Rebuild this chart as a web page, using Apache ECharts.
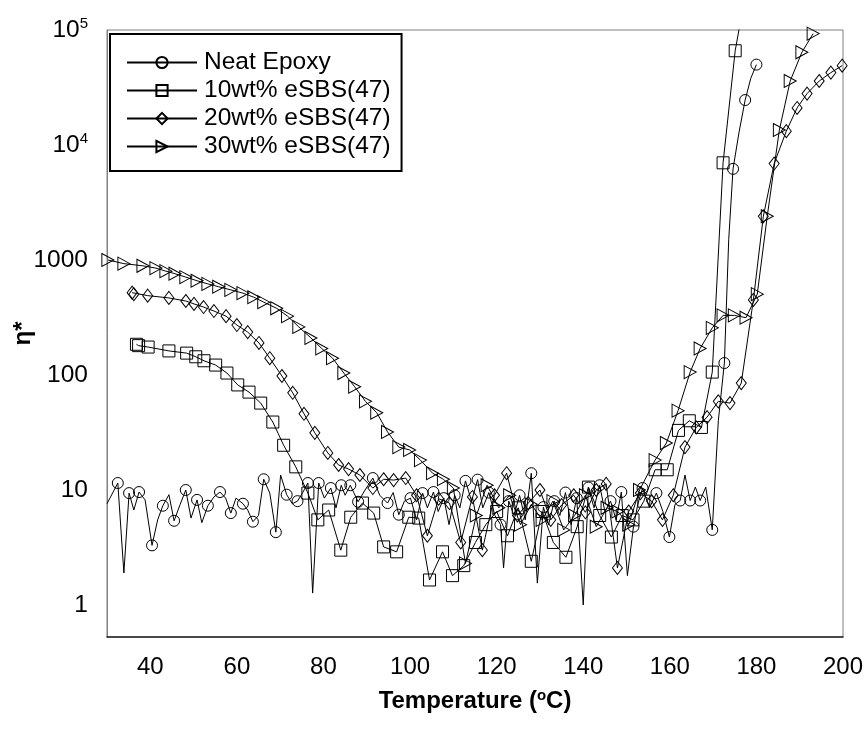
<!DOCTYPE html>
<html>
<head>
<meta charset="utf-8">
<script src="https://cdn.jsdelivr.net/npm/echarts@6/dist/echarts.min.js"></script>
<style>
html,body{margin:0;padding:0;background:#fff;}
#chart{width:866px;height:739px;}
</style>
</head>
<body>
<div id="chart"></div>
<script>
// ---- data (temperature in °C, viscosity η*) ----
const seriesNames = ['Neat Epoxy', '10wt% eSBS(47)', '20wt% eSBS(47)', '30wt% eSBS(47)'];

const neatX = [30,32.5,33.9,35.1,36.2,37.4,38.8,40.4,41.7,42.9,44.3,45.5,46.9,48.2,49.4,50.8,51.9,53.3,54.7,56.1,
  57.4,58.6,59.8,61.4,62.5,63.7,65.0,66.2,67.6,69.0,70.1,71.5,72.8,74.0,75.2,76.4,77.5,78.9,80.2,81.7,
  82.9,84.1,85.0,86.2,87.0,88.0,89.6,91.4,93.0,94.8,96.1,97.4,98.7,100.1,101.5,102.9,104.0,105.4,106.5,107.8,
  109.0,110.3,111.5,112.8,114.2,115.6,116.8,118.2,119.6,120.9,121.6,122.8,124.0,125.3,126.6,128.0,129.4,130.8,132.0,133.3,
  134.6,135.9,137.2,138.5,140.0,141.2,142.5,143.8,145.0,146.3,147.6,148.8,150.2,151.6,152.6,153.7,155.3,156.9,158.4,159.9,
  161.2,162.4,163.5,164.7,165.9,167.0,168.3,169.8,171.2,172.6,173.6,174.6,176.0,177.4,178.7,180.0];
const neatY = [7.6,11.5,1.9,9.4,6.7,9.6,8.2,3.3,5.5,7.3,9.1,5.4,7.5,10,5.7,8.2,5.2,7.3,8.7,9.6,
  8.5,6.3,8.5,7.6,6.7,5.3,6.0,12.4,9.4,4.3,13.5,9.1,7.6,8.0,9.5,11.5,1.27,11.5,8.5,10.4,
  7.0,11,9.0,11,9.5,7.9,10,12.7,9.0,7.7,9.5,6.1,8.0,8.5,5.5,9.4,7.0,9.6,6.5,8.5,
  5.0,9.0,7.0,12,8.0,12.3,7.0,9.5,6.0,5.0,2.1,8.0,6.0,9.0,5.5,14,1.55,7.1,5.0,8.0,
  6.0,9.5,5.0,8.5,1.0,10.5,7.0,11,6.5,8.0,5.5,9.6,1.8,4.8,7.5,10.4,7.0,9.4,6.5,3.9,
  7.5,8.1,13.5,8.1,10.6,8.1,10.6,4.5,40,127,1500,6200,13000,24600,38000,50000];

const s10X = [36.8,37.3,39.5,44.3,48.4,50.5,52.4,55.1,57.7,60.2,62.8,65.5,68.3,70.8,73.6,76.4,78.7,81.2,84.0,86.3,
  89.0,91.6,93.9,96.9,99.7,102.0,104.5,107.5,109.8,112.4,115.1,117.5,120.0,122.5,125.0,128.0,130.5,133.1,136.0,138.6,
  141.2,143.8,146.5,149.0,151.5,154.0,156.6,159.4,162.0,164.5,167.3,169.8,172.3,175.1,176.8];
const s10Y = [185,180,175,162,155,144,133,122,104,82,71,57,39,24.5,15.9,9.4,5.5,6.7,3.0,5.8,
  7.7,6.3,3.2,2.9,5.8,5.7,1.65,2.9,1.8,2.2,3.5,5.0,6.5,4.0,7.0,2.4,6.5,3.5,2.6,4.8,
  10.6,6.0,3.9,6.0,5.5,8.0,15,15,33,40,35,106,7000,66000,150000];

const s20X = [35.8,36.2,39.4,44.3,48.2,50.1,52.3,54.7,57.5,60.0,62.5,65.1,67.6,70.4,72.9,75.5,78.0,81.0,83.5,85.8,
  88.4,91.4,93.9,96.2,99.0,101.5,104.0,106.6,109.1,111.7,114.4,116.7,119.5,122.3,124.8,127.3,130.0,132.5,135.0,137.8,
  140.5,143.0,145.3,147.9,150.5,153.2,155.8,158.3,160.8,163.5,166.1,168.6,171.2,173.9,176.5,179.3,181.6,184.1,186.9,189.4,
  191.7,194.5,197.2,199.8];
const s20Y = [520,505,490,468,440,415,390,360,325,272,236,190,140,98,70,46,31.4,21,16.5,15.2,
  13.5,10.4,12.4,12.2,12.7,9.0,4.0,8.4,7.7,3.5,8.7,3.0,9.0,14,6.0,7.7,10,5.5,7.4,9.0,
  6.4,10,11.3,2.1,6.5,9.4,8.0,5.5,9.0,23.6,35,43,59,57,85,450,2400,6900,13200,21000,
  28000,36000,42600,49000];

const s30X = [30.2,33.9,38.3,41.3,43.6,45.7,48.2,50.8,53.3,55.8,58.6,61.4,63.9,66.2,69.2,71.7,74.3,77.1,79.6,82.1,
  84.7,87.2,89.7,92.3,94.8,97.4,99.9,102.4,105.2,107.7,110.0,112.8,115.3,117.8,120.5,123.0,125.5,128.0,130.5,133.0,
  135.5,138.0,140.5,143.0,145.5,148.0,150.5,153.0,156.6,159.2,161.9,164.7,167.0,169.8,172.3,174.9,177.6,180.2,182.5,185.3,
  187.8,190.5,193.1];
const s30Y = [1000,930,890,850,800,760,710,660,620,585,550,515,475,430,380,325,262,210,170,140,
  104,79,59,47,32,23.6,22.3,18.2,14,12.4,10.4,2.3,6.0,11,7.0,9.0,5.0,7.5,5.5,8.0,
  4.5,6.0,9.0,4.8,7.0,6.5,5.0,10,18.2,25.6,49,106,170,257,330,330,315,505,2400,13500,
  36000,64000,93000];

const xTickLabels = [40, 60, 80, 100, 120, 140, 160, 180, 200];
const yTickLabels = {0: '1', 1: '10', 2: '100', 3: '1000', 4: '10{sup|4}', 5: '10{sup|5}'};

// ---- build ----
const FONT = '"Liberation Sans", Arial, Helvetica, sans-serif';
function pairs(xs, ys, markEvery) {
  return xs.map((x, i) => {
    const item = { value: [x, ys[i]] };
    if (markEvery === 2 && i % 2 === 0) item.symbol = 'none';
    return item;
  });
}
const markerStyle = { color: 'none', borderColor: '#000', borderWidth: 1 };
const lineStyle = { color: '#000', width: 1 };
const triPath = 'path://M0,0L10,5L0,10Z';

const symbols = ['circle', 'rect', 'diamond', triPath];
const sizes = [11, 12, [10, 13], [12, 13]];
const xs = [neatX, s10X, s20X, s30X];
const ys = [neatY, s10Y, s20Y, s30Y];
const every = [2, 1, 1, 1];

const series = seriesNames.map((name, k) => ({
  name: name,
  type: 'line',
  data: pairs(xs[k], ys[k], every[k]),
  symbol: symbols[k],
  symbolSize: sizes[k],
  showAllSymbol: true,
  itemStyle: markerStyle,
  lineStyle: lineStyle,
  emphasis: { disabled: true },
  animation: false,
  clip: true,
  z: 2 + k
}));

const chart = echarts.init(document.getElementById('chart'), null, { renderer: 'canvas' });
chart.setOption({
  backgroundColor: '#fff',
  animation: false,
  textStyle: { fontFamily: FONT },
  grid: {
    left: 107, right: 23, top: 30, bottom: 102,
    containLabel: false,
    outerBoundsMode: 'none',
    show: true, borderColor: '#7f7f7f', borderWidth: 1, backgroundColor: 'transparent'
  },
  legend: {
    data: seriesNames,
    orient: 'vertical',
    left: 110, top: 34,
    padding: [16, 11, 12, 16],
    itemWidth: 70, itemHeight: 14, itemGap: 3,
    borderColor: '#000', borderWidth: 2, backgroundColor: '#fff',
    textStyle: { fontFamily: FONT, fontSize: 24.5, color: '#000', lineHeight: 25, padding: [0, 0, 0, 2] },
    selectedMode: false
  },
  xAxis: {
    type: 'value',
    min: 30, max: 200, interval: 10,
    axisLine: { show: true, lineStyle: { color: '#222', width: 1.5 } },
    axisTick: { show: false },
    splitLine: { show: false },
    axisLabel: {
      margin: 18, fontSize: 24, color: '#000', fontFamily: FONT,
      formatter: v => (xTickLabels.indexOf(Math.round(v)) >= 0 ? String(Math.round(v)) : '')
    },
    name: 'Temperature ({sup|o}C)',
    nameLocation: 'middle',
    nameGap: 51,
    nameMoveOverlap: false,
    nameTextStyle: {
      fontFamily: FONT, fontSize: 24, fontWeight: 'bold', color: '#000',
      rich: { sup: { fontSize: 15, fontWeight: 'bold', fontFamily: FONT, padding: [0, 0, 11, 0] } }
    }
  },
  yAxis: {
    type: 'log', logBase: 10,
    min: 0.527, max: 100000,
    axisLine: { show: true, lineStyle: { color: '#7f7f7f', width: 1 } },
    axisTick: { show: false },
    splitLine: { show: false },
    axisLabel: {
      margin: 19, fontSize: 24.5, color: '#000', fontFamily: FONT,
      formatter: v => {
        const l = Math.log10(v);
        const e = Math.round(l);
        if (Math.abs(l - e) > 0.01) return '';
        return yTickLabels[e] !== undefined ? yTickLabels[e] : '';
      },
      rich: { sup: { fontSize: 15, fontFamily: FONT, padding: [0, 0, 13, 0] } }
    },
    name: 'η*',
    nameLocation: 'middle',
    nameGap: 72,
    nameMoveOverlap: false,
    nameTextStyle: { fontFamily: FONT, fontSize: 24, fontWeight: 'bold', color: '#000' }
  },
  series: series
});
</script>
</body>
</html>
